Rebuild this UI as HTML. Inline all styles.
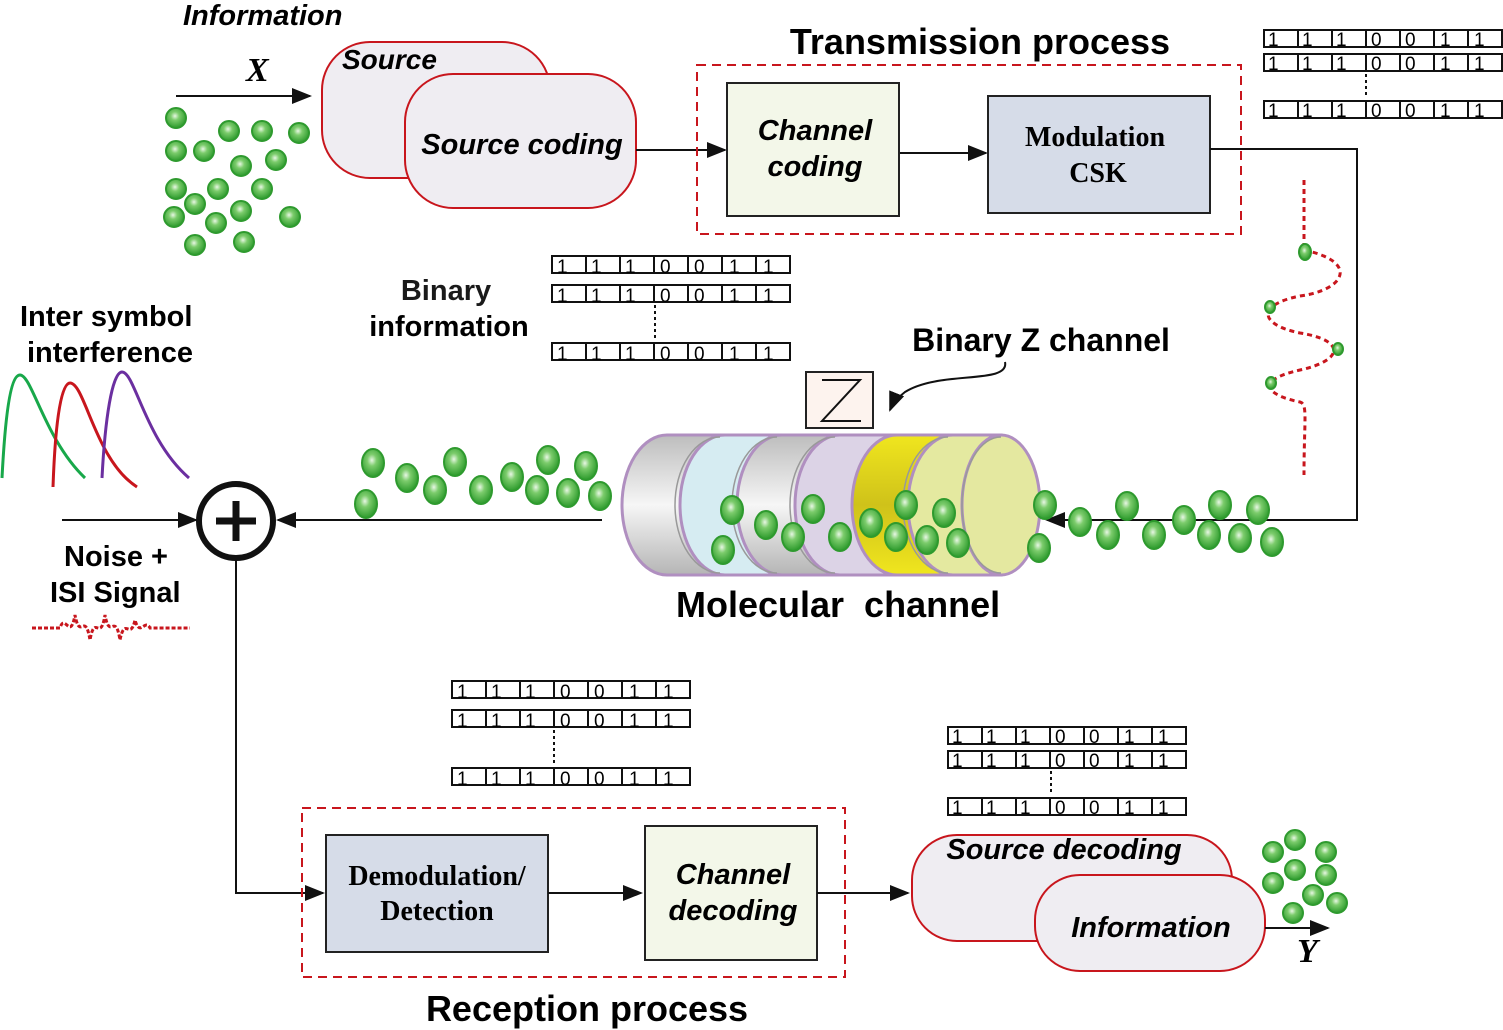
<!DOCTYPE html>
<html><head><meta charset="utf-8"><style>
html,body{margin:0;padding:0;background:#fff}
svg{display:block}
text{font-family:"Liberation Sans",sans-serif}
text.serif{font-family:"Liberation Serif",serif}
.b{font-weight:bold}
.bi{font-weight:bold;font-style:italic}
.bit text{font-size:19px;font-family:"Liberation Sans",sans-serif}
</style></head><body>
<svg width="1503" height="1030" viewBox="0 0 1503 1030" xmlns="http://www.w3.org/2000/svg">
<defs>
<radialGradient id="mg" cx="0.45" cy="0.4" r="0.6">
<stop offset="0" stop-color="#e8f7e4"/><stop offset="0.35" stop-color="#7ccc6c"/><stop offset="1" stop-color="#2c9a2c"/>
</radialGradient>
<linearGradient id="gray" x1="0" y1="0" x2="0" y2="1">
<stop offset="0" stop-color="#bdbdbd"/><stop offset="0.5" stop-color="#f6f6f6"/><stop offset="1" stop-color="#b5b5b5"/>
</linearGradient>
<linearGradient id="yel" x1="0" y1="0" x2="0" y2="1">
<stop offset="0" stop-color="#f0e61e"/><stop offset="0.5" stop-color="#cfc21a"/><stop offset="1" stop-color="#f0e61e"/>
</linearGradient>
<marker id="ar2" markerWidth="20" markerHeight="16" refX="18" refY="8" orient="auto" markerUnits="userSpaceOnUse" viewBox="0 0 20 16">
<path d="M0,0 L20,8 L0,16 z" fill="#111"/></marker>
<g id="row"><rect x="0" y="0" width="238" height="17" fill="#fff" stroke="#111" stroke-width="2"/>
<path d="M34,0V17M68,0V17M102,0V17M136,0V17M170,0V17M204,0V17" stroke="#111" stroke-width="2"/></g>
</defs>

<!-- Top left -->
<text x="183" y="25" class="bi" font-size="29">Information</text>
<text x="246" y="81" class="serif" font-style="italic" font-weight="bold" font-size="34">X</text>
<line x1="176" y1="96" x2="310" y2="96" stroke="#111" stroke-width="2" marker-end="url(#ar2)"/>
<g fill="url(#mg)" stroke="#2e9a2e" stroke-width="2">
<circle cx="176" cy="118" r="10"/><circle cx="229" cy="131" r="10"/><circle cx="262" cy="131" r="10"/><circle cx="299" cy="133" r="10"/>
<circle cx="176" cy="151" r="10"/><circle cx="204" cy="151" r="10"/><circle cx="241" cy="166" r="10"/><circle cx="276" cy="160" r="10"/>
<circle cx="176" cy="189" r="10"/><circle cx="218" cy="189" r="10"/><circle cx="262" cy="189" r="10"/><circle cx="195" cy="204" r="10"/>
<circle cx="241" cy="211" r="10"/><circle cx="174" cy="217" r="10"/><circle cx="216" cy="223" r="10"/><circle cx="290" cy="217" r="10"/>
<circle cx="195" cy="245" r="10"/><circle cx="244" cy="242" r="10"/>
</g>
<rect x="322" y="42" width="228" height="136" rx="48" fill="#efedf2" stroke="#c8161d" stroke-width="2"/>
<text x="342" y="69" class="bi" font-size="28">Source</text>
<rect x="405" y="74" width="231" height="134" rx="48" fill="#efedf2" stroke="#c8161d" stroke-width="2"/>
<text x="522" y="154" class="bi" font-size="29" text-anchor="middle">Source coding</text>
<line x1="636" y1="150" x2="725" y2="150" stroke="#111" stroke-width="2" marker-end="url(#ar2)"/>

<!-- Transmission -->
<text x="980" y="54" class="b" font-size="36" text-anchor="middle">Transmission process</text>
<rect x="697" y="65" width="544" height="169" fill="none" stroke="#c8161d" stroke-width="2" stroke-dasharray="9,6"/>
<rect x="727" y="83" width="172" height="133" fill="#f3f7e9" stroke="#222" stroke-width="2"/>
<text x="815" y="140" class="bi" font-size="29" text-anchor="middle">Channel</text>
<text x="815" y="176" class="bi" font-size="29" text-anchor="middle">coding</text>
<line x1="900" y1="153" x2="986" y2="153" stroke="#111" stroke-width="2" marker-end="url(#ar2)"/>
<rect x="988" y="96" width="222" height="117" fill="#d6dce8" stroke="#222" stroke-width="2"/>
<text x="1095" y="146" class="serif" font-weight="bold" font-size="28" text-anchor="middle">Modulation</text>
<text x="1098" y="182" class="serif" font-weight="bold" font-size="28" text-anchor="middle">CSK</text>
<polyline points="1210,149 1357,149 1357,520 1047,520" fill="none" stroke="#111" stroke-width="2" marker-end="url(#ar2)"/>

<!-- bit rows -->
<g class="bit">
<use href="#row" x="1264" y="30"/><use href="#row" x="1264" y="54"/><use href="#row" x="1264" y="101"/>
<line x1="1366" y1="74" x2="1366" y2="98" stroke="#111" stroke-width="2" stroke-dasharray="3,3"/>
<text x="1268 1302 1336 1371 1405 1440 1474" y="46">1110011</text>
<text x="1268 1302 1336 1371 1405 1440 1474" y="70">1110011</text>
<text x="1268 1302 1336 1371 1405 1440 1474" y="117">1110011</text>

<use href="#row" x="552" y="256"/><use href="#row" x="552" y="285"/><use href="#row" x="552" y="343"/>
<line x1="655" y1="305" x2="655" y2="340" stroke="#111" stroke-width="2" stroke-dasharray="3,3"/>
<text x="557 591 625 660 694 729 763" y="273">1110011</text>
<text x="557 591 625 660 694 729 763" y="302">1110011</text>
<text x="557 591 625 660 694 729 763" y="360">1110011</text>

<use href="#row" x="452" y="681"/><use href="#row" x="452" y="710"/><use href="#row" x="452" y="768"/>
<line x1="554" y1="730" x2="554" y2="765" stroke="#111" stroke-width="2" stroke-dasharray="3,3"/>
<text x="457 491 525 560 594 629 663" y="698">1110011</text>
<text x="457 491 525 560 594 629 663" y="727">1110011</text>
<text x="457 491 525 560 594 629 663" y="785">1110011</text>

<use href="#row" x="948" y="727"/><use href="#row" x="948" y="751"/><use href="#row" x="948" y="798"/>
<line x1="1051" y1="771" x2="1051" y2="795" stroke="#111" stroke-width="2" stroke-dasharray="3,3"/>
<text x="952 986 1020 1055 1089 1124 1158" y="743">1110011</text>
<text x="952 986 1020 1055 1089 1124 1158" y="767">1110011</text>
<text x="952 986 1020 1055 1089 1124 1158" y="814">1110011</text>
</g>

<text x="446" y="300" font-size="29" font-weight="bold" fill="#1a1a1a" text-anchor="middle" style="font-weight:600">Binary</text>
<text x="449" y="336" font-size="29" text-anchor="middle" style="font-weight:600">information</text>

<!-- wave -->
<line x1="1304" y1="180" x2="1304" y2="250" stroke="#c8161d" stroke-width="3" stroke-dasharray="5,4"/>
<path d="M1304,250 C1360,262 1345,290 1300,296 C1255,305 1260,325 1300,333 C1345,340 1345,360 1300,370 C1255,380 1265,395 1300,402 C1308,404 1304,420 1304,475" fill="none" stroke="#c8161d" stroke-width="3" stroke-dasharray="5,4"/>
<g fill="url(#mg)" stroke="#2e9a2e" stroke-width="2">
<ellipse cx="1305" cy="252" rx="6" ry="8"/><ellipse cx="1270" cy="307" rx="5" ry="6"/><ellipse cx="1338" cy="349" rx="5" ry="6"/><ellipse cx="1271" cy="383" rx="5" ry="6"/>
</g>

<!-- Binary Z -->
<text x="1041" y="351" class="b" font-size="32" text-anchor="middle">Binary Z channel</text>
<path d="M1005,362 C1010,385 940,370 905,392 C895,400 892,405 890,410" fill="none" stroke="#111" stroke-width="2" marker-end="url(#ar2)"/>
<rect x="806" y="372" width="67" height="56" fill="#fdf3ee" stroke="#222" stroke-width="2"/>
<path d="M822,380 H860 L822,421 H861" fill="none" stroke="#111" stroke-width="2"/>

<!-- cylinder -->
<g stroke="#b08fc0" stroke-width="3">
<path d="M667,435 A45,70 0 0 0 667,575 L725,575 L725,435 Z" fill="url(#gray)"/>
<path d="M725,435 A45,70 0 0 0 725,575 L782,575 L782,435 Z" fill="#d6ecf2"/>
<path d="M782,435 A45,70 0 0 0 782,575 L840,575 L840,435 Z" fill="url(#gray)"/>
<path d="M840,435 A45,70 0 0 0 840,575 L897,575 L897,435 Z" fill="#dcd3e6"/>
<path d="M897,435 A45,70 0 0 0 897,575 L953,575 L953,435 Z" fill="url(#yel)"/>
<path d="M953,435 A45,70 0 0 0 953,575 L1001,575 L1001,435 Z" fill="#e4e9a0"/>
<ellipse cx="1001" cy="505" rx="39" ry="70" fill="#e4e8a0"/>
</g>
<g fill="none" stroke="#999" stroke-width="1.5">
<path d="M720,437 A45,68 0 0 0 720,573"/><path d="M777,437 A45,68 0 0 0 777,573"/><path d="M835,437 A45,68 0 0 0 835,573"/><path d="M948,437 A45,68 0 0 0 948,573"/>
<path d="M1001,437 A39,68 0 0 0 1001,573"/>
</g>

<g fill="url(#mg)" stroke="#2e9a2e" stroke-width="2">
<ellipse cx="373" cy="463" rx="11" ry="14"/><ellipse cx="407" cy="478" rx="11" ry="14"/><ellipse cx="455" cy="462" rx="11" ry="14"/><ellipse cx="435" cy="490" rx="11" ry="14"/>
<ellipse cx="481" cy="490" rx="11" ry="14"/><ellipse cx="512" cy="477" rx="11" ry="14"/><ellipse cx="548" cy="460" rx="11" ry="14"/><ellipse cx="586" cy="466" rx="11" ry="14"/>
<ellipse cx="366" cy="504" rx="11" ry="14"/><ellipse cx="537" cy="490" rx="11" ry="14"/><ellipse cx="568" cy="493" rx="11" ry="14"/><ellipse cx="600" cy="496" rx="11" ry="14"/>
<ellipse cx="732" cy="510" rx="11" ry="14"/><ellipse cx="723" cy="550" rx="11" ry="14"/><ellipse cx="766" cy="525" rx="11" ry="14"/><ellipse cx="793" cy="537" rx="11" ry="14"/>
<ellipse cx="813" cy="509" rx="11" ry="14"/><ellipse cx="840" cy="537" rx="11" ry="14"/><ellipse cx="871" cy="523" rx="11" ry="14"/><ellipse cx="896" cy="537" rx="11" ry="14"/>
<ellipse cx="906" cy="505" rx="11" ry="14"/><ellipse cx="927" cy="540" rx="11" ry="14"/><ellipse cx="944" cy="513" rx="11" ry="14"/><ellipse cx="958" cy="543" rx="11" ry="14"/>
<ellipse cx="1045" cy="505" rx="11" ry="14"/><ellipse cx="1039" cy="548" rx="11" ry="14"/><ellipse cx="1080" cy="522" rx="11" ry="14"/><ellipse cx="1108" cy="535" rx="11" ry="14"/>
<ellipse cx="1127" cy="506" rx="11" ry="14"/><ellipse cx="1154" cy="535" rx="11" ry="14"/><ellipse cx="1184" cy="520" rx="11" ry="14"/><ellipse cx="1209" cy="535" rx="11" ry="14"/>
<ellipse cx="1220" cy="505" rx="11" ry="14"/><ellipse cx="1240" cy="538" rx="11" ry="14"/><ellipse cx="1258" cy="510" rx="11" ry="14"/><ellipse cx="1272" cy="542" rx="11" ry="14"/>
</g>
<text x="676" y="617" class="b" font-size="36" xml:space="preserve">Molecular  channel</text>

<!-- Left: ISI, summer -->
<text x="20" y="326" font-size="29" style="font-weight:600">Inter symbol</text>
<text x="27" y="362" font-size="29" style="font-weight:600">interference</text>
<path d="M2,478 C5,420 10,375 20,375 C32,375 45,440 85,478" fill="none" stroke="#18a84a" stroke-width="3"/>
<path d="M53,487 C55,430 60,383 70,383 C85,383 95,460 137,487" fill="none" stroke="#c8161d" stroke-width="3"/>
<path d="M102,478 C105,420 112,372 122,372 C135,372 145,440 189,478" fill="none" stroke="#6b2fa0" stroke-width="3"/>
<line x1="602" y1="520" x2="278" y2="520" stroke="#111" stroke-width="2" marker-end="url(#ar2)"/>
<line x1="62" y1="520" x2="196" y2="520" stroke="#111" stroke-width="2" marker-end="url(#ar2)"/>
<circle cx="236" cy="521" r="37" fill="#fff" stroke="#111" stroke-width="6"/>
<path d="M236,501V541M216,521H256" stroke="#111" stroke-width="7"/>
<text x="64" y="566" font-size="29" style="font-weight:600">Noise +</text>
<text x="50" y="602" font-size="29" style="font-weight:600">ISI Signal</text>
<path d="M32,628 H60 C65,612 70,642 75,615 C80,642 85,610 90,640 C95,612 100,644 105,615 C110,642 115,610 120,640 C125,615 130,642 135,620 C140,638 145,618 150,628 H190" fill="none" stroke="#c8161d" stroke-width="3" stroke-dasharray="4,2"/>

<polyline points="236,559 236,893 323,893" fill="none" stroke="#111" stroke-width="2" marker-end="url(#ar2)"/>

<!-- Reception -->
<rect x="302" y="808" width="543" height="169" fill="none" stroke="#c8161d" stroke-width="2" stroke-dasharray="9,6"/>
<rect x="326" y="835" width="222" height="117" fill="#d6dce8" stroke="#222" stroke-width="2"/>
<text x="437" y="885" class="serif" font-weight="bold" font-size="28" text-anchor="middle">Demodulation/</text>
<text x="437" y="920" class="serif" font-weight="bold" font-size="28" text-anchor="middle">Detection</text>
<line x1="548" y1="893" x2="641" y2="893" stroke="#111" stroke-width="2" marker-end="url(#ar2)"/>
<rect x="645" y="826" width="172" height="134" fill="#f3f7e9" stroke="#222" stroke-width="2"/>
<text x="733" y="884" class="bi" font-size="29" text-anchor="middle">Channel</text>
<text x="733" y="920" class="bi" font-size="29" text-anchor="middle">decoding</text>
<line x1="817" y1="893" x2="908" y2="893" stroke="#111" stroke-width="2" marker-end="url(#ar2)"/>
<text x="587" y="1021" class="b" font-size="36" text-anchor="middle">Reception process</text>

<rect x="912" y="835" width="320" height="106" rx="45" fill="#efedf2" stroke="#c8161d" stroke-width="2"/>
<text x="1064" y="859" class="bi" font-size="29" text-anchor="middle">Source decoding</text>
<rect x="1035" y="875" width="230" height="96" rx="45" fill="#efedf2" stroke="#c8161d" stroke-width="2"/>
<text x="1151" y="937" class="bi" font-size="29" text-anchor="middle">Information</text>
<line x1="1265" y1="928" x2="1328" y2="928" stroke="#111" stroke-width="2" marker-end="url(#ar2)"/>
<text x="1297" y="962" class="serif" font-style="italic" font-weight="bold" font-size="34">Y</text>
<g fill="url(#mg)" stroke="#2e9a2e" stroke-width="2">
<circle cx="1295" cy="840" r="10"/><circle cx="1273" cy="852" r="10"/><circle cx="1326" cy="852" r="10"/><circle cx="1295" cy="870" r="10"/>
<circle cx="1273" cy="883" r="10"/><circle cx="1326" cy="875" r="10"/><circle cx="1313" cy="895" r="10"/><circle cx="1337" cy="903" r="10"/><circle cx="1293" cy="913" r="10"/>
</g>
</svg>
</body></html>
